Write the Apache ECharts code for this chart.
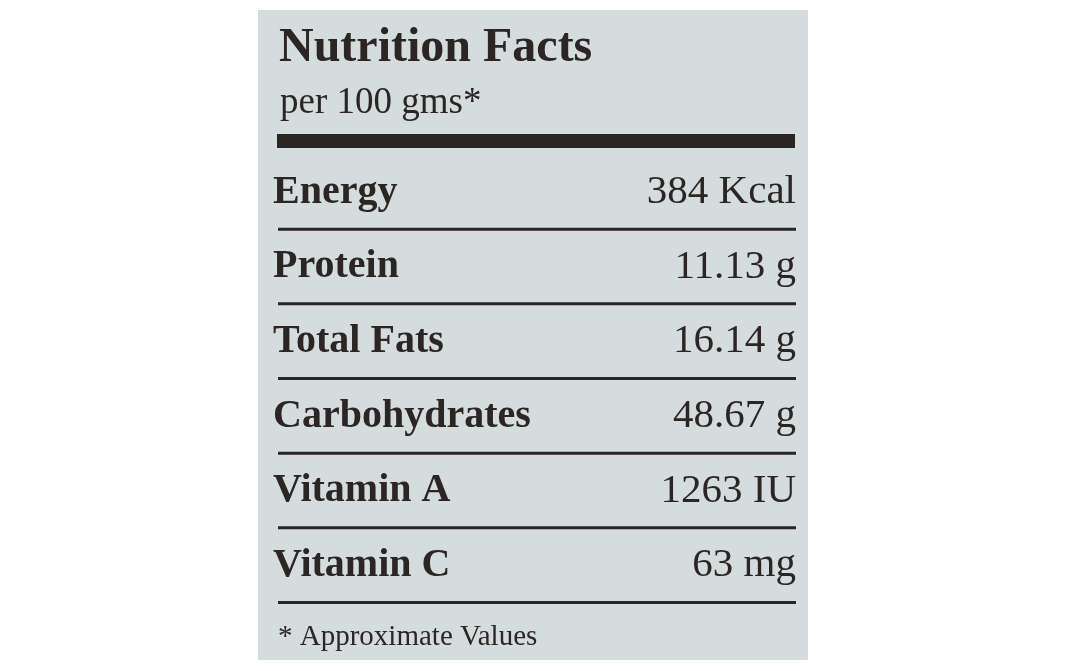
<!DOCTYPE html>
<html><head><meta charset="utf-8">
<script src="https://cdn.jsdelivr.net/npm/echarts@6/dist/echarts.min.js"></script>
<style>html,body{margin:0;padding:0;background:#fff}#c{width:1068px;height:671px}</style>
</head><body><div id="c"></div>
<script>
const nutrients = ["Energy","Protein","Total Fats","Carbohydrates","Vitamin A","Vitamin C"];
const amounts = ["384 Kcal","11.13 g","16.14 g","48.67 g","1263 IU","63 mg"];
const titleText = "Nutrition Facts";
const subtitleText = "per 100 gms*";
const footnoteText = "* Approximate Values";
const font = "'Liberation Serif', 'DejaVu Serif', serif";
const ink = "#2b2623";
const chart = echarts.init(document.getElementById('c'));
chart.setOption({
  backgroundColor: '#fff',
  animation: false,
  title: [
    {text: titleText, left: 274, top: 20, textStyle:{fontFamily:font, fontSize:48, fontWeight:'bold', color:ink}},
    {text: subtitleText, left: 275, top: 80, textStyle:{fontFamily:font, fontSize:37, fontWeight:'normal', color:ink}},
    {text: footnoteText, left: 273, top: 618, textStyle:{fontFamily:font, fontSize:29, fontWeight:'normal', color:ink}}
  ],
  graphic: [
    {type:'rect', z:-10, shape:{x:258,y:10,width:550,height:650}, style:{fill:'#d4dcdd'}},
    {type:'rect', z:1, shape:{x:277,y:134,width:518,height:14}, style:{fill:'#2a2522'}}
  ],
  grid: {left: 273, width: 523, top: 155, height: 448},
  xAxis: {type:'value', min:0, max:1, show:false},
  yAxis: {type:'category', data:nutrients, inverse:true, show:false},
  series: [{
    type:'custom',
    data: nutrients.map((n,i)=>[0,i]),
    renderItem: function(params, api){
      const i = api.value(1);
      const p = api.coord([0,i]);
      const r = api.coord([1,i]);
      const band = api.size([0,1])[1];
      return {type:'group', children:[
        {type:'text', style:{text:nutrients[i], x:p[0], y:p[1], verticalAlign:'middle', align:'left', font:'bold 40px '+font, fill:ink}},
        {type:'text', style:{text:amounts[i], x:r[0], y:p[1], verticalAlign:'middle', align:'right', font:'41px '+font, fill:ink}},
        {type:'rect', shape:{x:p[0]+5, y:p[1]+band/2-2, width:r[0]-p[0]-5, height:3}, style:{fill:'#2a2522'}}
      ]};
    }
  }]
});
</script></body></html>
